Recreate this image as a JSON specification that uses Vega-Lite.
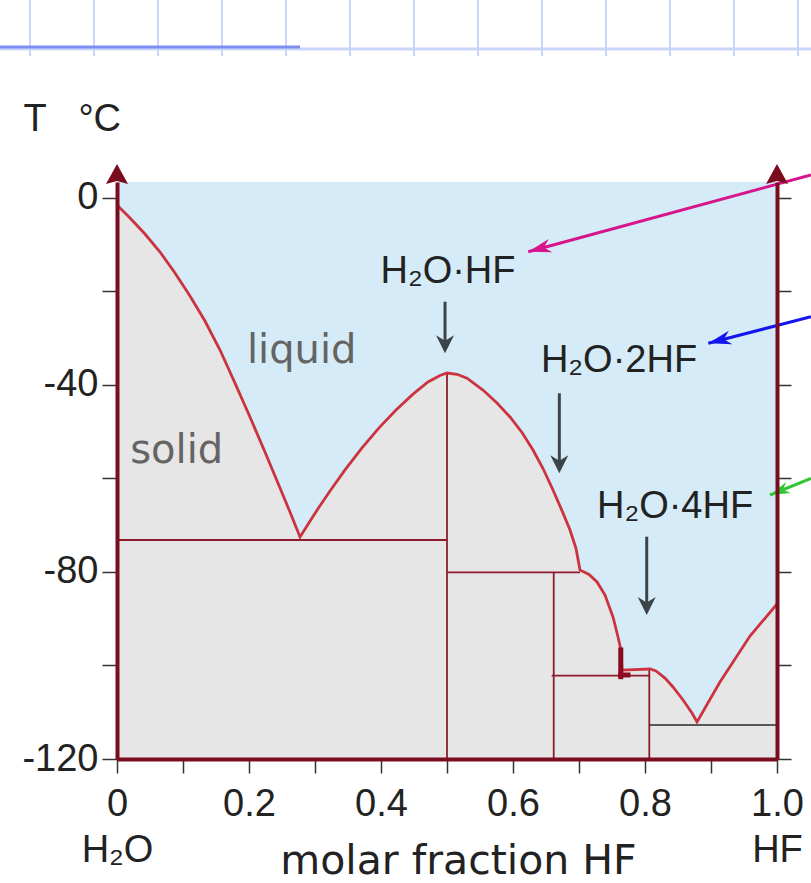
{
  "$schema": "https://vega.github.io/schema/vega-lite/v6.json",
  "width": 660,
  "height": 577,
  "autosize": {"type": "none"},
  "padding": {"left": 117, "top": 182, "right": 34, "bottom": 124},
  "background": "white",
  "config": {"view": {"fill": "#d5ebf7", "stroke": null}},
  "datasets": {
    "liquidus": [
      {"x": 0, "T": -1.57}, {"x": 0.0197, "T": -4.35}, {"x": 0.0424, "T": -7.77}, {"x": 0.0652, "T": -11.62},
      {"x": 0.0879, "T": -16.11}, {"x": 0.1106, "T": -21.03}, {"x": 0.1333, "T": -26.37}, {"x": 0.1561, "T": -32.57},
      {"x": 0.1788, "T": -39.63}, {"x": 0.2015, "T": -46.9}, {"x": 0.2242, "T": -54.38}, {"x": 0.247, "T": -62.08},
      {"x": 0.2621, "T": -67.21}, {"x": 0.2773, "T": -72.54},
      {"x": 0.2909, "T": -69.5}, {"x": 0.3045, "T": -66.5}, {"x": 0.3227, "T": -62.7}, {"x": 0.3455, "T": -58.2},
      {"x": 0.3712, "T": -53.5}, {"x": 0.397, "T": -49.2}, {"x": 0.4227, "T": -45.4}, {"x": 0.4485, "T": -42.0},
      {"x": 0.4712, "T": -39.4}, {"x": 0.4894, "T": -38.0}, {"x": 0.5, "T": -37.48},
      {"x": 0.5152, "T": -37.75}, {"x": 0.5303, "T": -38.6}, {"x": 0.5545, "T": -41.12}, {"x": 0.5758, "T": -43.9},
      {"x": 0.5955, "T": -46.89}, {"x": 0.6136, "T": -50.2}, {"x": 0.6303, "T": -53.94}, {"x": 0.6455, "T": -57.9},
      {"x": 0.6606, "T": -62.49}, {"x": 0.6742, "T": -66.9}, {"x": 0.6864, "T": -71.05}, {"x": 0.6955, "T": -75.0},
      {"x": 0.7015, "T": -79.6}, {"x": 0.7076, "T": -80.0},
      {"x": 0.7152, "T": -80.55}, {"x": 0.7273, "T": -82.16}, {"x": 0.7394, "T": -84.94}, {"x": 0.7515, "T": -89.64},
      {"x": 0.7591, "T": -93.92}, {"x": 0.7636, "T": -96.7}, {"x": 0.7652, "T": -100.98}, {"x": 0.8076, "T": -100.76},
      {"x": 0.8167, "T": -101.19}, {"x": 0.8303, "T": -102.7}, {"x": 0.8424, "T": -104.61}, {"x": 0.8576, "T": -107.39}, {"x": 0.8712, "T": -110.17},
      {"x": 0.8788, "T": -112.09}, {"x": 0.9136, "T": -103.54}, {"x": 0.9591, "T": -93.71}, {"x": 1.0, "T": -86.87}
    ],
    "ties": [
      {"x": 0, "x2": 0.5, "T": -73.18, "T2": -73.18},
      {"x": 0.5, "x2": 0.5, "T": -37.48, "T2": -120},
      {"x": 0.5, "x2": 0.7015, "T": -80.09, "T2": -80.09},
      {"x": 0.6617, "x2": 0.6617, "T": -80.09, "T2": -120},
      {"x": 0.6586, "x2": 0.8065, "T": -102.19, "T2": -102.19},
      {"x": 0.8065, "x2": 0.8065, "T": -100.76, "T2": -120}
    ],
    "eutectic": [
      {"x": 0.8065, "x2": 1.0, "T": -112.73, "T2": -112.73}
    ],
    "peritectic": [
      {"x": 0.7633, "x2": 0.7633, "T": -96.7, "T2": -102.4},
      {"x": 0.7633, "x2": 0.7742, "T": -102.04, "T2": -102.04}
    ],
    "pointers": [
      {"x": 0.497, "T": -22.24, "T2": -32.5},
      {"x": 0.6702, "T": -41.82, "T2": -58.2},
      {"x": 0.8026, "T": -72.48, "T2": -88.5}
    ],
    "pointerTips": [
      {"x": 0.497, "T": -33.27},
      {"x": 0.6702, "T": -58.92},
      {"x": 0.8026, "T": -89.22}
    ],
    "links": [
      {"target": "H2O·HF", "x": 1.0515, "T": 4.85, "x2": 0.6232, "T2": -11.55},
      {"target": "H2O·2HF", "x": 1.0515, "T": -25.45, "x2": 0.8959, "T2": -31.13},
      {"target": "H2O·4HF", "x": 1.0515, "T": -59.99, "x2": 0.9894, "T2": -63.56}
    ],
    "compounds": [
      {"x": 0.5015, "T": -18.31, "label": "H₂O·HF"},
      {"x": 0.7606, "T": -37.2, "label": "H₂O·2HF"},
      {"x": 0.8455, "T": -68.54, "label": "H₂O·4HF"}
    ],
    "phases": [
      {"x": 0.2798, "T": -35.41, "label": "liquid"},
      {"x": 0.0905, "T": -56.79, "label": "solid"}
    ],
    "axisEnds": [
      {"x": 0, "T": 2.92},
      {"x": 1, "T": 2.92}
    ],
    "paperV": [
      {"x": -0.1318, "T": 42.26, "T2": 30.29}, {"x": -0.0348, "T": 42.26, "T2": 30.29},
      {"x": 0.0621, "T": 42.26, "T2": 30.29}, {"x": 0.1591, "T": 42.26, "T2": 30.29},
      {"x": 0.2561, "T": 42.26, "T2": 30.29}, {"x": 0.353, "T": 42.26, "T2": 30.29},
      {"x": 0.45, "T": 42.26, "T2": 30.29}, {"x": 0.547, "T": 42.26, "T2": 30.29},
      {"x": 0.6439, "T": 42.26, "T2": 30.29}, {"x": 0.7409, "T": 42.26, "T2": 30.29},
      {"x": 0.8379, "T": 42.26, "T2": 30.29}, {"x": 0.9348, "T": 42.26, "T2": 30.29},
      {"x": 1.0318, "T": 42.26, "T2": 30.29}
    ],
    "paperH": [
      {"x": -0.1773, "x2": 1.0515, "T": 31.78}
    ],
    "paperAccent": [
      {"x": -0.1773, "x2": 0.2773, "T": 32.21}
    ]
  },
  "resolve": {"axis": {"x": "independent", "y": "independent"}},
  "layer": [
    {
      "data": {"name": "paperV"},
      "mark": {"type": "rule", "color": "#c9d5fa", "strokeWidth": 2},
      "encoding": {
        "x": {"field": "x", "type": "quantitative", "scale": {"domain": [0, 1], "nice": false, "zero": false}, "axis": null},
        "y": {"field": "T", "type": "quantitative", "scale": {"domain": [-120, 3.35], "nice": false, "zero": false}, "axis": null},
        "y2": {"field": "T2"}
      }
    },
    {
      "data": {"name": "paperH"},
      "mark": {"type": "rule", "color": "#c9d5fa", "strokeWidth": 3},
      "encoding": {
        "x": {"field": "x", "type": "quantitative", "scale": {"domain": [0, 1], "nice": false, "zero": false}, "axis": null},
        "x2": {"field": "x2"},
        "y": {"field": "T", "type": "quantitative", "scale": {"domain": [-120, 3.35], "nice": false, "zero": false}, "axis": null}
      }
    },
    {
      "data": {"name": "paperAccent"},
      "mark": {"type": "rule", "color": "#7d8ff0", "strokeWidth": 3},
      "encoding": {
        "x": {"field": "x", "type": "quantitative", "scale": {"domain": [0, 1], "nice": false, "zero": false}, "axis": null},
        "x2": {"field": "x2"},
        "y": {"field": "T", "type": "quantitative", "scale": {"domain": [-120, 3.35], "nice": false, "zero": false}, "axis": null}
      }
    },
    {
      "data": {"name": "liquidus"},
      "mark": {"type": "area", "color": "#e6e6e6", "opacity": 1},
      "encoding": {
        "x": {
          "field": "x", "type": "quantitative",
          "scale": {"domain": [0, 1], "nice": false, "zero": false},
          "axis": {
            "orient": "bottom",
            "values": [0, 0.1, 0.2, 0.3, 0.4, 0.5, 0.6, 0.7, 0.8, 0.9, 1.0],
            "labelExpr": "round(datum.value*10) % 2 != 0 ? '' : (datum.value == 0 ? ['0', 'H₂O'] : (datum.value == 1 ? ['1.0', 'HF'] : format(datum.value, '.1f')))",
            "grid": false,
            "tickSize": 14, "tickColor": "#333333", "tickWidth": 1.5,
            "domainColor": "#7a0c20", "domainWidth": 4,
            "labelFont": "Liberation Sans", "labelFontSize": 38, "labelColor": "#222222",
            "labelPadding": 12, "labelFlush": false, "labelOverlap": false, "labelLineHeight": 46,
            "title": "molar fraction HF",
            "titleFont": "DejaVu Sans", "titleFontSize": 41, "titleFontWeight": "normal", "titleColor": "#222222",
            "titleX": 341, "titleY": 114, "titleAlign": "center", "titleBaseline": "alphabetic",
            "zindex": 1
          }
        },
        "y": {
          "field": "T", "type": "quantitative",
          "scale": {"domain": [-120, 3.35], "nice": false, "zero": false},
          "axis": {
            "orient": "left",
            "values": [-120, -100, -80, -60, -40, -20, 0],
            "labelExpr": "datum.value % 40 == 0 ? ('' + datum.value) : ''",
            "grid": false,
            "tickSize": 15, "tickColor": "#333333", "tickWidth": 1.5,
            "domainColor": "#7a0c20", "domainWidth": 4,
            "labelFont": "Liberation Sans", "labelFontSize": 38, "labelColor": "#222222", "labelPadding": 4,
            "title": "T\u00a0\u00a0\u00a0°C",
            "titleFont": "Liberation Sans", "titleFontSize": 38, "titleFontWeight": "normal", "titleColor": "#222222",
            "titleAngle": 0, "titleAlign": "left", "titleBaseline": "alphabetic",
            "titleX": -94, "titleY": -52,
            "zindex": 1
          }
        },
        "y2": {"datum": -120}
      }
    },
    {
      "data": {"name": "ties"},
      "mark": {"type": "rule", "color": "#8e1b2c", "strokeWidth": 1.8},
      "encoding": {
        "x": {"field": "x", "type": "quantitative", "scale": {"domain": [0, 1], "nice": false, "zero": false}, "axis": null},
        "x2": {"field": "x2"},
        "y": {"field": "T", "type": "quantitative", "scale": {"domain": [-120, 3.35], "nice": false, "zero": false}, "axis": null},
        "y2": {"field": "T2"}
      }
    },
    {
      "data": {"name": "eutectic"},
      "mark": {"type": "rule", "color": "#2a2a2a", "strokeWidth": 1.6},
      "encoding": {
        "x": {"field": "x", "type": "quantitative", "scale": {"domain": [0, 1], "nice": false, "zero": false}, "axis": null},
        "x2": {"field": "x2"},
        "y": {"field": "T", "type": "quantitative", "scale": {"domain": [-120, 3.35], "nice": false, "zero": false}, "axis": null},
        "y2": {"field": "T2"}
      }
    },
    {
      "data": {"name": "liquidus"},
      "mark": {"type": "line", "color": "#cc3340", "strokeWidth": 2.8},
      "encoding": {
        "x": {"field": "x", "type": "quantitative", "scale": {"domain": [0, 1], "nice": false, "zero": false}, "axis": null},
        "y": {
          "field": "T", "type": "quantitative",
          "scale": {"domain": [-120, 3.35], "nice": false, "zero": false},
          "axis": {
            "orient": "right",
            "values": [-120, -100, -80, -60, -40, -20, 0],
            "labels": false, "title": null, "grid": false,
            "tickSize": 14, "tickColor": "#333333", "tickWidth": 1.5,
            "domainColor": "#7a0c20", "domainWidth": 4,
            "zindex": 1
          }
        }
      }
    },
    {
      "data": {"name": "peritectic"},
      "mark": {"type": "rule", "color": "#8b0a1f", "strokeWidth": 5, "strokeCap": "square"},
      "encoding": {
        "x": {"field": "x", "type": "quantitative", "scale": {"domain": [0, 1], "nice": false, "zero": false}, "axis": null},
        "x2": {"field": "x2"},
        "y": {"field": "T", "type": "quantitative", "scale": {"domain": [-120, 3.35], "nice": false, "zero": false}, "axis": null},
        "y2": {"field": "T2"}
      }
    },
    {
      "data": {"name": "pointers"},
      "mark": {"type": "rule", "color": "#3d4449", "strokeWidth": 3},
      "encoding": {
        "x": {"field": "x", "type": "quantitative", "scale": {"domain": [0, 1], "nice": false, "zero": false}, "axis": null},
        "y": {"field": "T", "type": "quantitative", "scale": {"domain": [-120, 3.35], "nice": false, "zero": false}, "axis": null},
        "y2": {"field": "T2"}
      }
    },
    {
      "data": {"name": "pointerTips"},
      "mark": {"type": "point", "shape": "M0,0 L-0.5,-1 L0,-0.7 L0.5,-1 Z", "size": 1296, "filled": true, "color": "#3d4449", "opacity": 1},
      "encoding": {
        "x": {"field": "x", "type": "quantitative", "scale": {"domain": [0, 1], "nice": false, "zero": false}, "axis": null},
        "y": {"field": "T", "type": "quantitative", "scale": {"domain": [-120, 3.35], "nice": false, "zero": false}, "axis": null}
      }
    },
    {
      "data": {"name": "links"},
      "mark": {"type": "rule", "strokeWidth": 3},
      "encoding": {
        "x": {"field": "x", "type": "quantitative", "scale": {"domain": [0, 1], "nice": false, "zero": false}, "axis": null},
        "x2": {"field": "x2"},
        "y": {"field": "T", "type": "quantitative", "scale": {"domain": [-120, 3.35], "nice": false, "zero": false}, "axis": null},
        "y2": {"field": "T2"},
        "color": {"field": "target", "type": "nominal", "scale": {"domain": ["H2O·HF", "H2O·2HF", "H2O·4HF"], "range": ["#d6148c", "#1414f0", "#33c633"]}, "legend": null}
      }
    },
    {
      "data": {"name": "links"},
      "transform": [{"filter": "datum.target == 'H2O·HF'"}],
      "mark": {"type": "point", "shape": "M0,0 L1,-0.3 L0.7,0 L1,0.3 Z", "size": 2116, "filled": true, "opacity": 1, "angle": -15.2, "color": "#d6148c"},
      "encoding": {
        "x": {"field": "x2", "type": "quantitative", "scale": {"domain": [0, 1], "nice": false, "zero": false}, "axis": null},
        "y": {"field": "T2", "type": "quantitative", "scale": {"domain": [-120, 3.35], "nice": false, "zero": false}, "axis": null}
      }
    },
    {
      "data": {"name": "links"},
      "transform": [{"filter": "datum.target == 'H2O·2HF'"}],
      "mark": {"type": "point", "shape": "M0,0 L1,-0.3 L0.7,0 L1,0.3 Z", "size": 2116, "filled": true, "opacity": 1, "angle": -14.5, "color": "#1414f0"},
      "encoding": {
        "x": {"field": "x2", "type": "quantitative", "scale": {"domain": [0, 1], "nice": false, "zero": false}, "axis": null},
        "y": {"field": "T2", "type": "quantitative", "scale": {"domain": [-120, 3.35], "nice": false, "zero": false}, "axis": null}
      }
    },
    {
      "data": {"name": "links"},
      "transform": [{"filter": "datum.target == 'H2O·4HF'"}],
      "mark": {"type": "point", "shape": "M0,0 L1,-0.3 L0.7,0 L1,0.3 Z", "size": 1600, "filled": true, "opacity": 1, "angle": -22.2, "color": "#33c633"},
      "encoding": {
        "x": {"field": "x2", "type": "quantitative", "scale": {"domain": [0, 1], "nice": false, "zero": false}, "axis": null},
        "y": {"field": "T2", "type": "quantitative", "scale": {"domain": [-120, 3.35], "nice": false, "zero": false}, "axis": null}
      }
    },
    {
      "data": {"name": "compounds"},
      "mark": {"type": "text", "font": "Liberation Sans", "fontSize": 38, "color": "#222222", "align": "center", "baseline": "alphabetic"},
      "encoding": {
        "x": {"field": "x", "type": "quantitative", "scale": {"domain": [0, 1], "nice": false, "zero": false}, "axis": null},
        "y": {"field": "T", "type": "quantitative", "scale": {"domain": [-120, 3.35], "nice": false, "zero": false}, "axis": null},
        "text": {"field": "label"}
      }
    },
    {
      "data": {"name": "phases"},
      "mark": {"type": "text", "font": "DejaVu Sans", "fontSize": 40, "color": "#646464", "align": "center", "baseline": "alphabetic"},
      "encoding": {
        "x": {"field": "x", "type": "quantitative", "scale": {"domain": [0, 1], "nice": false, "zero": false}, "axis": null},
        "y": {"field": "T", "type": "quantitative", "scale": {"domain": [-120, 3.35], "nice": false, "zero": false}, "axis": null},
        "text": {"field": "label"}
      }
    },
    {
      "data": {"name": "axisEnds"},
      "mark": {"type": "point", "shape": "M0,-1 L0.55,0 L0,-0.15 L-0.55,0 Z", "size": 1600, "filled": true, "color": "#7a0c20", "opacity": 1},
      "encoding": {
        "x": {"field": "x", "type": "quantitative", "scale": {"domain": [0, 1], "nice": false, "zero": false}, "axis": null},
        "y": {"field": "T", "type": "quantitative", "scale": {"domain": [-120, 3.35], "nice": false, "zero": false}, "axis": null}
      }
    }
  ]
}
